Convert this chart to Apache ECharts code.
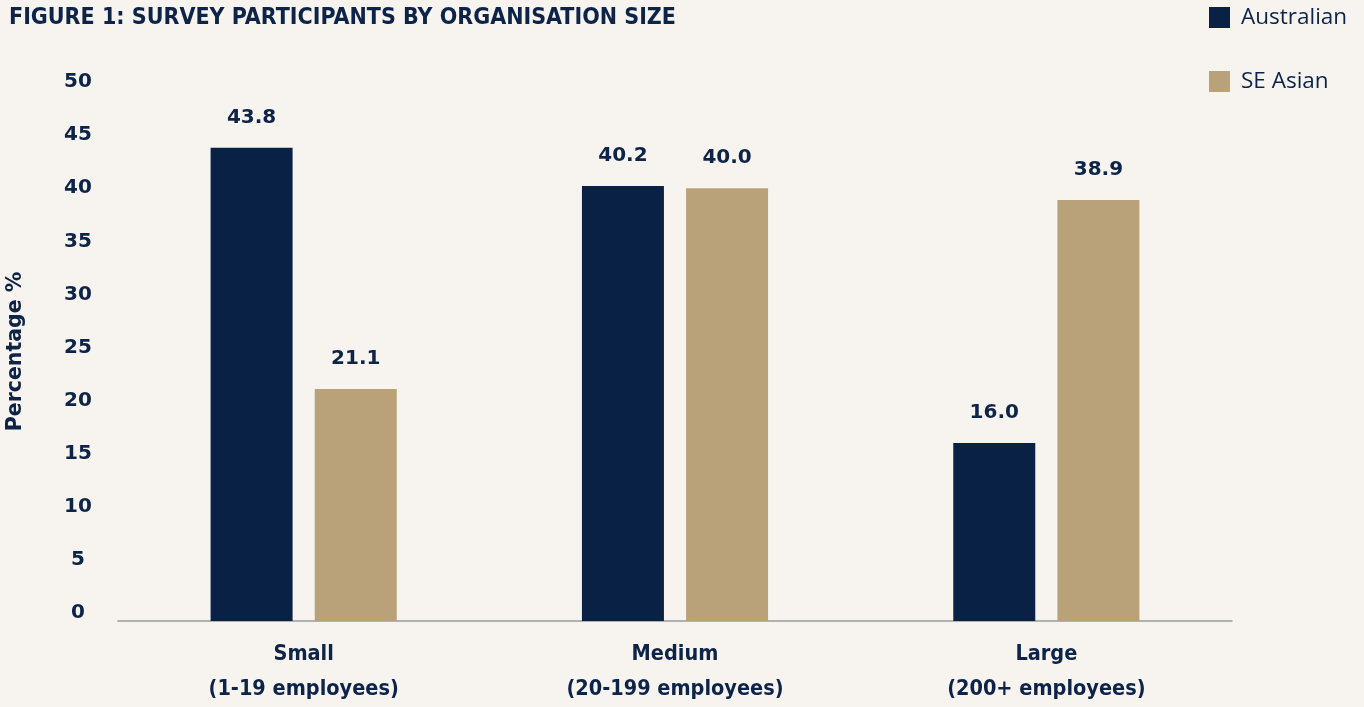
<!DOCTYPE html>
<html>
<head>
<meta charset="utf-8">
<script src="https://cdn.jsdelivr.net/npm/echarts@6/dist/echarts.min.js"></script>
<style>
  html, body { margin: 0; padding: 0; background: #f7f4ef; }
  #chart { width: 1364px; height: 707px; }
</style>
</head>
<body>
<div id="chart"></div>
<script>
// data
var categories = ['Small\n(1-19 employees)', 'Medium\n(20-199 employees)', 'Large\n(200+ employees)'];
var australian = [43.8, 40.2, 16.0];
var seAsian = [21.1, 40.0, 38.9];
var yTicks = [0, 5, 10, 15, 20, 25, 30, 35, 40, 45, 50];

var navy = '#0a2146';
var tan = '#b9a27a';
var textColor = '#0d2347';
var condensed = '"DejaVu Sans Condensed", "Liberation Sans Narrow", sans-serif';
var wide = '"DejaVu Sans", Lato, sans-serif';

var chart = echarts.init(document.getElementById('chart'));

var valueLabel = {
    show: true,
    position: 'top',
    distance: 20,
    formatter: function (p) { return p.value.toFixed(1); },
    color: textColor,
    fontFamily: wide,
    fontWeight: 'bold',
    fontSize: 20
};

var option = {
    backgroundColor: '#f7f4ef',
    animation: false,
    title: {
        text: 'FIGURE 1: SURVEY PARTICIPANTS BY ORGANISATION SIZE',
        left: 4,
        top: 2,
        textStyle: {
            color: textColor,
            fontFamily: condensed,
            fontWeight: 'bold',
            fontSize: 23
        }
    },
    legend: {
        orient: 'vertical',
        left: 1209,
        top: 6,
        padding: 0,
        itemWidth: 21,
        itemHeight: 21,
        itemGap: 41,
        icon: 'rect',
        textStyle: {
            color: textColor,
            fontFamily: '"Open Sans", sans-serif',
            fontSize: 22.5,
            padding: [0, 0, 0, 6]
        },
        data: ['Australian', 'SE Asian']
    },
    grid: {
        left: 118,
        right: 132,
        top: 82,
        bottom: 86,
        outerBoundsMode: 'none'
    },
    xAxis: {
        type: 'category',
        data: categories,
        axisTick: { show: false },
        axisLine: {
            onZero: false,
            lineStyle: { color: '#9a9a9a', width: 1.5 }
        },
        axisLabel: {
            margin: 16,
            color: textColor,
            fontFamily: condensed,
            fontWeight: 'bold',
            fontSize: 21.5,
            lineHeight: 35
        }
    },
    yAxis: {
        type: 'value',
        // the zero gridline sits a little above the axis line in the original
        min: -0.75,
        max: 50,
        startValue: -0.75,
        name: 'Percentage %',
        nameLocation: 'middle',
        nameGap: 92,
        nameTextStyle: {
            color: textColor,
            fontFamily: wide,
            fontWeight: 'bold',
            fontSize: 20.5
        },
        splitLine: { show: false },
        axisLine: { show: false },
        axisTick: { show: false },
        axisLabel: {
            customValues: yTicks,
            align: 'center',
            margin: 40,
            color: textColor,
            fontFamily: wide,
            fontWeight: 'bold',
            fontSize: 20
        }
    },
    series: [
        {
            name: 'Australian',
            type: 'bar',
            data: australian,
            barWidth: 82,
            barGap: '27%',
            itemStyle: { color: navy },
            label: valueLabel
        },
        {
            name: 'SE Asian',
            type: 'bar',
            data: seAsian,
            barWidth: 82,
            itemStyle: { color: tan },
            label: valueLabel
        }
    ]
};

chart.setOption(option);
</script>
</body>
</html>
